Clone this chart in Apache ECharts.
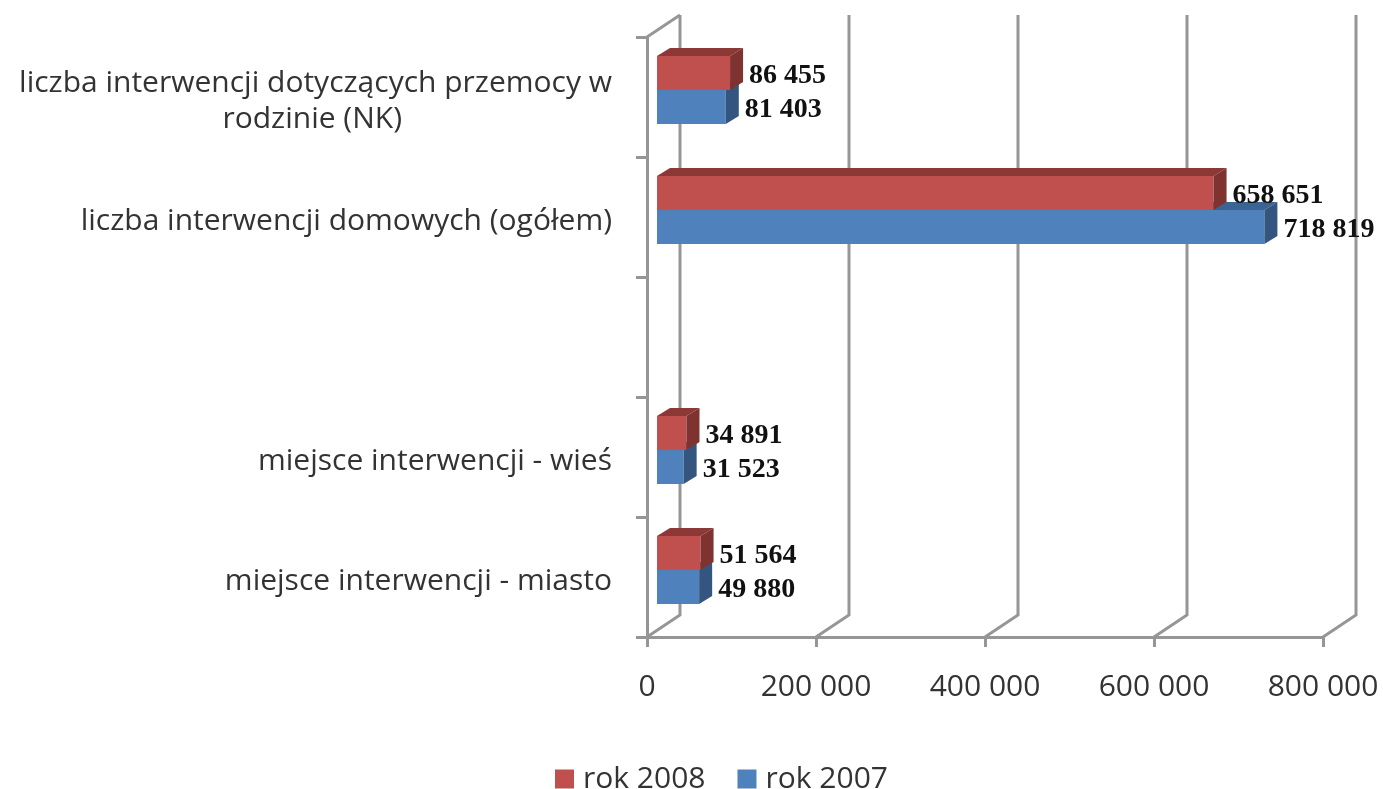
<!DOCTYPE html>
<html>
<head>
<meta charset="utf-8">
<style>
    html, body { margin: 0; padding: 0; background: #fff; }
    #chart { width: 1383px; height: 789px; }
</style>
<script src="https://cdn.jsdelivr.net/npm/echarts@6/dist/echarts.min.js"></script>
</head>
<body>
<div id="chart"></div>
<script>
    // top to bottom, the empty one is the gap in the original chart
    const categories = [
        'liczba interwencji dotyczących przemocy w\nrodzinie (NK)',
        'liczba interwencji domowych (ogółem)',
        '',
        'miejsce interwencji - wieś',
        'miejsce interwencji - miasto'
    ];
    const values2008 = [86455, 658651, null, 34891, 51564];
    const values2007 = [81403, 718819, null, 31523, 49880];
    const xTicks = [0, 200000, 400000, 600000, 800000];

    const TEXT = '#333333';
    const LINE = '#969696';
    const FONT = '"Open Sans"';
    const WALL_DX = 33, WALL_DY = -22;   // back wall
    const FLOOR_DX = 10, FLOOR_DY = -7;  // front of the bars from the axis plane
    const BAR_DX = 13, BAR_DY = -8;      // depth of the bars
    const BAR_H = 34;

    function fmt(v) {
        return String(v).replace(/\B(?=(\d{3})+$)/g, ' ');
    }

    function toData(values) {
        return values.map((v, i) => [v, i]).filter(d => d[0] !== null);
    }

    // category labels: second line sits centred under the first, not flush right
    function catLabel(text) {
        const lines = text.split('\n');
        if (lines.length === 1) return '{a|' + text + '}';
        return '{a|' + lines[0] + '}\n{b|' + lines[1] + '}';
    }

    // slot: -1 bar above the centre line, 0 below it
    function barRenderer(front, top, side, slot) {
        return function (params, api) {
            const end = api.coord([api.value(0), api.value(1)]);
            const x0 = api.coord([0, api.value(1)])[0] + FLOOR_DX;
            const x1 = end[0] + FLOOR_DX;
            const y0 = end[1] + FLOOR_DY + slot * BAR_H;
            const y1 = y0 + BAR_H;
            return {
                type: 'group',
                children: [
                    { type: 'rect', shape: { x: x0, y: y0, width: x1 - x0, height: BAR_H }, style: { fill: front } },
                    { type: 'polygon', shape: { points: [[x0, y0], [x0 + BAR_DX, y0 + BAR_DY], [x1 + BAR_DX, y0 + BAR_DY], [x1, y0]] }, style: { fill: top } },
                    { type: 'polygon', shape: { points: [[x1, y0], [x1 + BAR_DX, y0 + BAR_DY], [x1 + BAR_DX, y1 + BAR_DY], [x1, y1]] }, style: { fill: side } },
                    {
                        type: 'text',
                        z2: 10,
                        style: {
                            text: fmt(api.value(0)),
                            x: x1 + BAR_DX + 6,
                            y: (y0 + y1) / 2 + 3,
                            verticalAlign: 'middle',
                            fill: '#111',
                            font: 'bold 28px "Liberation Serif"'
                        }
                    }
                ]
            };
        };
    }

    function renderWall(params, api) {
        const v = api.value(0);
        const sys = params.coordSys;
        const x = api.coord([v, 0])[0];
        const bottom = sys.y + sys.height;
        const style = { stroke: LINE, lineWidth: 3, fill: 'none' };
        const points = [[x + WALL_DX, sys.y + WALL_DY], [x + WALL_DX, bottom + WALL_DY], [x, bottom]];
        const children = [{ type: 'polyline', shape: { points: points }, style: style }];
        if (v === 0) {
            children.push({ type: 'line', shape: { x1: x, y1: sys.y, x2: x + WALL_DX, y2: sys.y + WALL_DY }, style: style });
        }
        return { type: 'group', children: children };
    }

    const chart = echarts.init(document.getElementById('chart'));
    chart.setOption({
        animation: false,
        backgroundColor: '#fff',
        textStyle: { fontFamily: FONT },
        legend: {
            data: ['rok 2008', 'rok 2007'],
            top: 759,
            left: 550,
            icon: 'rect',
            itemWidth: 19,
            itemHeight: 19,
            itemGap: 32,
            textStyle: { fontFamily: FONT, fontSize: 30, color: TEXT, padding: [0, 0, 0, 4] }
        },
        grid: { left: 647, right: 60, top: 37, bottom: 152 },
        xAxis: {
            type: 'value',
            min: 0,
            max: 800000,
            interval: 200000,
            splitLine: { show: false },
            axisLine: { show: true, lineStyle: { color: LINE, width: 3 } },
            axisTick: { show: true, length: 10, lineStyle: { color: LINE, width: 3 } },
            axisLabel: {
                margin: 35,
                formatter: fmt,
                color: TEXT,
                fontFamily: FONT,
                fontSize: 30
            }
        },
        yAxis: {
            type: 'category',
            inverse: true,
            data: categories,
            axisLine: { show: true, lineStyle: { color: LINE, width: 3 } },
            axisTick: { show: true, length: 11, lineStyle: { color: LINE, width: 3 } },
            axisLabel: {
                interval: 0,
                margin: 35,
                align: 'right',
                padding: [8, 0, 0, 0],
                formatter: catLabel,
                rich: {
                    a: { color: TEXT, fontFamily: FONT, fontSize: 30, lineHeight: 36 },
                    b: { color: TEXT, fontFamily: FONT, fontSize: 30, lineHeight: 36, padding: [0, 210, 0, 0] }
                }
            }
        },
        series: [
            {
                type: 'custom',
                silent: true,
                data: xTicks.map(v => [v]),
                encode: { x: 0 },
                renderItem: renderWall
            },
            {
                name: 'rok 2007',
                type: 'custom',
                itemStyle: { color: '#4f81bd' },
                data: toData(values2007),
                encode: { x: 0, y: 1 },
                renderItem: barRenderer('#4f81bd', '#3a6494', '#33557f', 0)
            },
            {
                name: 'rok 2008',
                type: 'custom',
                itemStyle: { color: '#c0504d' },
                data: toData(values2008),
                encode: { x: 0, y: 1 },
                renderItem: barRenderer('#c0504d', '#8c3836', '#7f3331', -1)
            }
        ]
    });
</script>
</body>
</html>
